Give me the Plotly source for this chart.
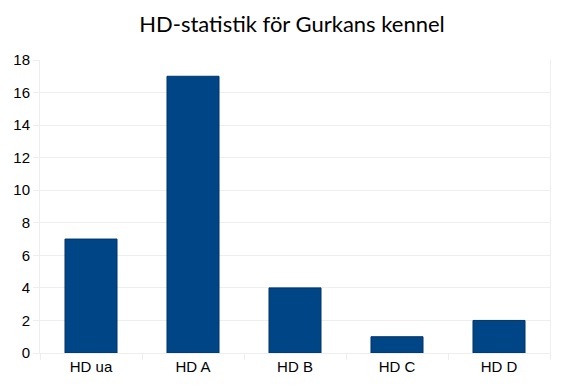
import plotly.graph_objects as go

categories = ["HD ua", "HD A", "HD B", "HD C", "HD D"]
values = [7, 17, 4, 1, 2]
y_ticks = [0, 2, 4, 6, 8, 10, 12, 14, 16, 18]
title_text = "HD-statistik för Gurkans kennel"

grid = "#eeeeee"

fig = go.Figure(go.Bar(
    x=categories, y=values,
    marker=dict(color="#004586", line=dict(color="#00346a", width=1)),
))

fig.update_layout(
    width=567, height=389,
    margin=dict(l=40, r=17, t=60, b=36),
    paper_bgcolor="white", plot_bgcolor="white",
    bargap=0.49,
    showlegend=False,
    title=dict(text=title_text, x=0.515, xanchor="center", y=0.937, yanchor="middle",
               font=dict(family="Lato, Open Sans, sans-serif", size=22, color="#000000")),
    font=dict(family="Liberation Sans, Arial, sans-serif", size=15, color="#000000"),
)
fig.update_xaxes(
    showgrid=False, tickson="boundaries", ticks="outside", ticklen=6, tickcolor=grid,
    showline=True, linecolor=grid, linewidth=1, mirror=False,
    tickfont=dict(size=15),
)
fig.update_yaxes(
    range=[0, 18], tickvals=y_ticks, showgrid=True, gridcolor=grid, gridwidth=1,
    ticks="outside", ticklen=6, tickcolor=grid, zeroline=False,
    showline=True, linecolor=grid, linewidth=1, mirror=True,
    tickfont=dict(size=15),
)

fig.write_html("out.html", config={"displayModeBar": False},
               post_script="document.body.style.margin='0';document.body.style.overflow='hidden';")
